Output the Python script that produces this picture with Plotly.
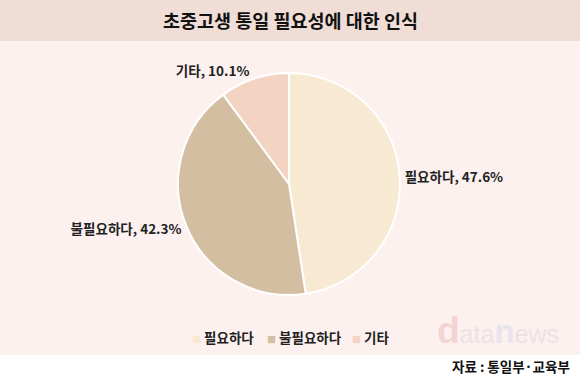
import plotly.graph_objects as go

categories = ["필요하다", "불필요하다", "기타"]
values = [47.6, 42.3, 10.1]
colors = ["#F8EAD2", "#D4BEA2", "#F3D3C1"]

title_text = "초중고생 통일 필요성에 대한 인식"
source_text = "자료 : 통일부·교육부"

FONT = "Noto Sans CJK KR"
W, H = 580, 384

fig = go.Figure()
fig.add_trace(go.Pie(
    labels=categories,
    values=values,
    sort=False,
    direction="clockwise",
    rotation=0,
    marker=dict(colors=colors, line=dict(color="white", width=2)),
    texttemplate="<b>%{label}, %{value:.1f}%</b>",
    textposition="outside",
    textfont=dict(family=FONT, size=13.5, color="#222222"),
    showlegend=False,
    domain=dict(x=[0.3069, 0.6897], y=[0.2318, 0.8099]),
    hoverinfo="label+value",
))

# manual legend (small square markers like the reference)
legend_x = [190, 265, 350]
annotations = []
for cat, col, lx in zip(categories, colors, legend_x):
    annotations.append(dict(
        text=f"<span style='color:{col};font-size:9px'>■</span> <b>{cat}</b>",
        xref="paper", yref="paper", x=lx / W, y=1 - 337 / H,
        xanchor="left", yanchor="middle", showarrow=False,
        font=dict(family=FONT, size=13.5, color="#222222"),
    ))

annotations += [
    dict(text="<b>" + title_text + "</b>", xref="paper", yref="paper", x=0.5, y=1 - 20 / H,
         showarrow=False, font=dict(family=FONT, size=18.5, color="#111111"),
         xanchor="center", yanchor="middle"),
    dict(text="<span style='color:#F4D3D0;font-size:37px'><b>d</b></span>"
              "<span style='color:#EEE3E3;font-size:25px'>ata</span>"
              "<span style='color:#E7E4EE;font-size:33px'><b>n</b></span>"
              "<span style='color:#EEE3E3;font-size:25px'>ews</span>",
         xref="paper", yref="paper", x=561 / W, y=1 - 353 / H, showarrow=False,
         font=dict(family="Liberation Sans", size=25), xanchor="right", yanchor="bottom"),
    dict(text="<b>" + source_text + "</b>", xref="paper", yref="paper", x=572 / W, y=1 - 366 / H,
         showarrow=False, font=dict(family=FONT, size=13.5, color="#111111"),
         xanchor="right", yanchor="middle"),
]

fig.update_layout(
    width=W, height=H,
    margin=dict(l=0, r=0, t=0, b=0),
    paper_bgcolor="white",
    showlegend=False,
    shapes=[
        dict(type="rect", xref="paper", yref="paper", x0=0, x1=1, y0=1 - 41 / H, y1=1,
             fillcolor="#EFDDD6", line=dict(width=0), layer="below"),
        dict(type="rect", xref="paper", yref="paper", x0=0, x1=1, y0=1 - 355 / H, y1=1 - 41 / H,
             fillcolor="#FCF1EF", line=dict(width=0), layer="below"),
    ],
    annotations=annotations,
)

fig.write_html("out.html", config={"displayModeBar": False},
               post_script="document.body.style.margin='0';")
